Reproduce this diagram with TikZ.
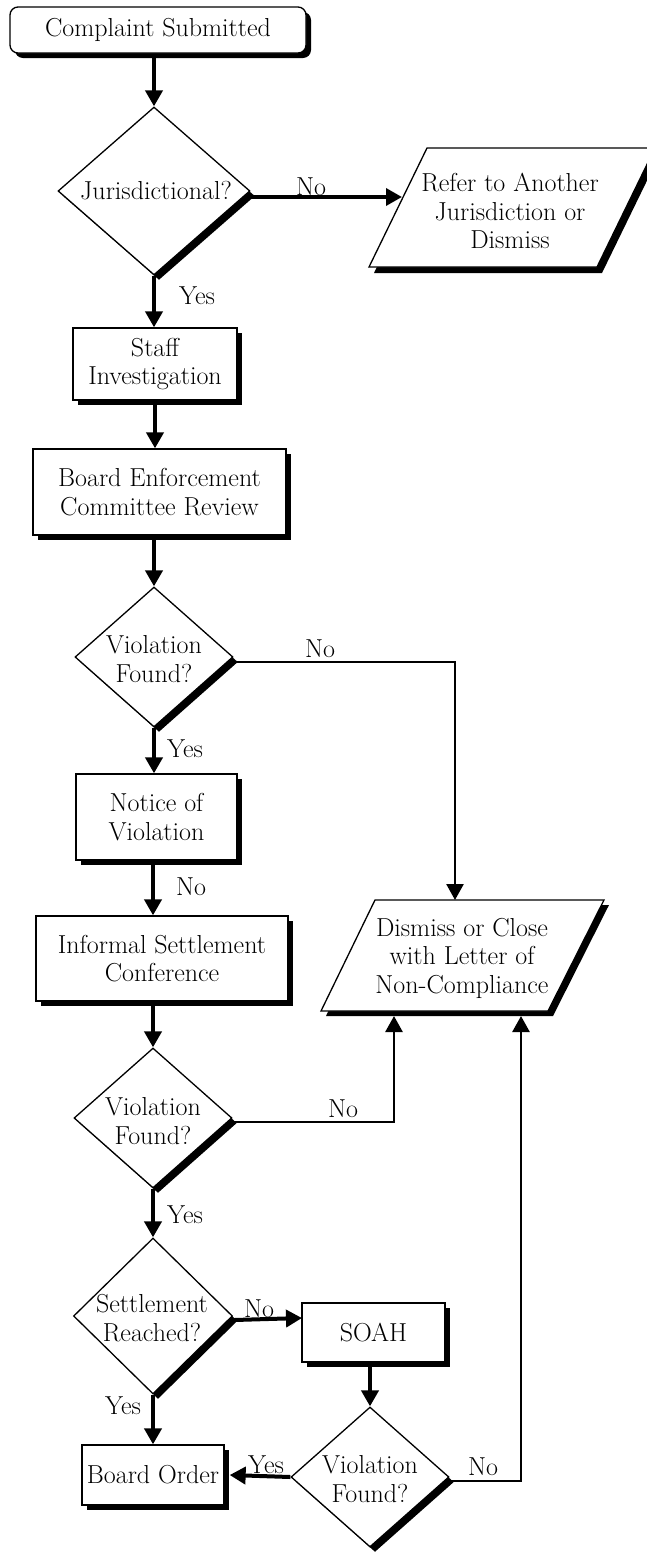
\documentclass[tikz,border=0pt]{standalone}
\usetikzlibrary{arrows.meta,shapes.geometric,shadows,calc}
\begin{document}
\begin{tikzpicture}[x=1pt,y=-1pt,
  fnt/.style={font=\fontsize{26}{28.5}\selectfont},
  txt/.style={fnt, align=center, inner sep=0pt},
  lbl/.style={fnt, inner sep=0pt, anchor=base},
  shd/.style={drop shadow={shadow xshift=5pt,shadow yshift=-5pt,opacity=1,fill=black}},
  rbox/.style={draw, line width=1.3pt, fill=white, shd, inner sep=0pt, fnt, align=center},
  dia/.style={shape=diamond, draw, line width=1.3pt, fill=white, shd, inner sep=0pt},
  arr/.style={line width=4pt, -{Triangle[width=17pt,length=16pt]}},
  noline/.style={line width=2.6pt, -{Triangle[width=17pt,length=16pt]}},
]
\useasboundingbox (0,0) rectangle (647,1553);

% ---- shapes ----
\node[rbox, rounded corners=8pt, minimum width=296pt, minimum height=46pt] (c0) at (158,30) {Complaint Submitted};

\node[dia, minimum width=192pt, minimum height=168pt] (J) at (154,191) {};
\node[txt] (Jt) at (156,191) {Jurisdictional?};

% parallelogram: Refer to another jurisdiction
\fill[shift={(5,6)}] (369,267) -- (597,267) -- (655,148) -- (427,148) -- cycle;
\draw[line width=1.3pt, fill=white] (369,267) -- (597,267) -- (655,148) -- (427,148) -- cycle;
\node[txt] (R) at (510,211) {Refer to Another\\Jurisdiction or\\Dismiss};
\coordinate (Rin) at (402,197);

\node[rbox, minimum width=164pt, minimum height=72pt] (S) at (155,364) {Staff\\Investigation};
\node[rbox, minimum width=253pt, minimum height=86pt] (B) at (159.5,492) {Board Enforcement\\Committee Review};

\node[dia, minimum width=158pt, minimum height=140pt] (V1) at (154,657) {};
\node[txt] (V1t) at (154,659) {Violation\\Found?};

\node[rbox, minimum width=161pt, minimum height=86pt] (N) at (156.5,817) {Notice of\\Violation};
\node[rbox, minimum width=252pt, minimum height=85pt] (I) at (162,958.5) {Informal Settlement\\Conference};

% parallelogram: Dismiss or close
\fill[shift={(5,5)}] (321,1011) -- (548,1011) -- (604,900) -- (375,900) -- cycle;
\draw[line width=1.3pt, fill=white] (321,1011) -- (548,1011) -- (604,900) -- (375,900) -- cycle;
\node[txt] (D) at (462,958) {Dismiss or Close\\with Letter of\\Non-Compliance};
\coordinate (Dtop) at (455,900);
\coordinate (Dbl) at (394,1016);
\coordinate (Dbr) at (521,1016);

\node[dia, minimum width=158pt, minimum height=140pt] (V2) at (153,1118) {};
\node[txt] (V2t) at (153,1121) {Violation\\Found?};

\node[dia, minimum width=159pt, minimum height=156pt] (St) at (153,1316) {};
\node[txt] (Stt) at (152,1318) {Settlement\\Reached?};

\node[rbox, minimum width=143pt, minimum height=59pt] (SO) at (373.5,1332.5) {SOAH};
\coordinate (SOin) at (302,1318);

\node[rbox, minimum width=142pt, minimum height=60pt] (BO) at (153,1475) {Board Order};

\node[dia, minimum width=158pt, minimum height=140pt] (V3) at (370,1477) {};
\node[txt] (V3t) at (370,1479) {Violation\\Found?};

% ---- connectors ----
\draw[arr] (J.north |- c0.south) -- (J.north);
\draw[line width=3.5pt, -{Triangle[width=17pt,length=16pt]}] (J.east |- Rin) -- (Rin);
\draw[arr] (J.south) -- (J.south |- S.north);
\draw[arr] (S.south) -- (S.south |- B.north);
\draw[arr] (V1.north |- B.south) -- (V1.north);
\draw[arr] (V1.south) -- (V1.south |- N.north);
\draw[noline] ($(V1.east)+(1,5)$) -| (Dtop);
\draw[arr] (V2.north |- N.south) -- (V2.north |- I.north);
\draw[arr] (V2.north |- I.south) -- (V2.north);
\draw[noline] ($(V2.east)+(1,4)$) -| (Dbl);
\draw[arr] (V2.south) -- (St.north);
\draw[arr] ($(St.east)+(1,4)$) -- (SOin);
\draw[arr] (St.south) -- (St.south |- BO.north);
\draw[arr] (V3.north |- SO.south) -- (V3.north);
\draw[arr] (V3.west) -- ($(BO.east)+(5,0)$);
\draw[noline] ($(V3.east)+(1,4)$) -| (Dbr);

% ---- labels ----
\node[lbl] (l1) at (311,195) {No};
\node[lbl] (l2) at (197,304) {Yes};
\node[lbl] (l3) at (320,657) {No};
\node[lbl] (l4) at (185,757) {Yes};
\node[lbl] (l5) at (191,895) {No};
\node[lbl] (l6) at (343,1117) {No};
\node[lbl] (l7) at (185,1223) {Yes};
\node[lbl] (l8) at (259,1317) {No};
\node[lbl] (l9) at (123,1414) {Yes};
\node[lbl] (l10) at (266,1473) {Yes};
\node[lbl] (l11) at (483,1475) {No};
\end{tikzpicture}
\end{document}
